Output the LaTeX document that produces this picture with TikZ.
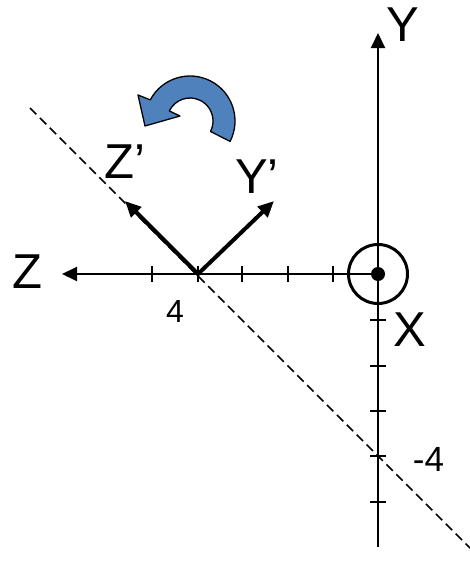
\documentclass[tikz,border=0pt]{standalone}
\usepackage{fontspec}
\setmainfont{Liberation Sans}
\usetikzlibrary{arrows.meta,calc}
\definecolor{arrowblue}{HTML}{4F81BD}
\begin{document}
\begin{tikzpicture}[x=1pt,y=-1pt,
  axis/.style={line width=2pt,-{Triangle[length=15pt,width=14pt]}},
  primed/.style={line width=4pt,{Triangle[length=16pt,width=14pt]}-{Triangle[length=16pt,width=14pt]}},
  tickmark/.style={line width=2pt},
  biglabel/.style={font=\fontsize{49}{55}\selectfont,inner sep=0pt},
  numlabel/.style={inner sep=0pt},
  guide/.style={line width=1.6pt,dash pattern=on 9pt off 5pt},
  rotarrow/.style={line width=1.3pt,fill=arrowblue,draw=black,line join=round}]
\useasboundingbox (0,0) rectangle (470,562);
\coordinate (O) at (378,274);
\coordinate (P) at (198,274);
% dashed guide line
\coordinate (g1) at (30,108);
\coordinate (g2) at (470,548);
\draw[guide] (g1) -- (g2);
% axes
\coordinate (zt) at (62,274);
\coordinate (yt) at (378,33);
\coordinate (yb) at (378,547);
\draw[axis] (O) -- (zt);
\draw[axis] (yb) -- (yt);
% ticks
\foreach \x in {152,198,242,288,333} \draw[tickmark] (\x,266) -- (\x,282);
\foreach \y in {320,366,411,456,502} \draw[tickmark] (370,\y) -- (386,\y);
% X axis out of page
\node[circle,draw,line width=3pt,minimum size=59pt,inner sep=0pt] (xc) at (O) {};
\fill (O) circle (7);
% rotated axes
\coordinate (zp) at (125,201);
\coordinate (yp) at (274,201);
\draw[primed] (zp) -- (P) -- (yp);
% rotation arrow
\coordinate (rc) at (190,121);
\draw[rotarrow]
  ($(rc)+(27:45)$) arc[start angle=27, end angle=-152, radius=45]
  -- (138,95) -- (145,126) -- (180,116) -- ($(rc)+(-154:23)$)
  arc[start angle=-154, end angle=27, radius=23] -- cycle;
% labels
\node[biglabel] (Zl) at (27,272) {Z};
\node[biglabel] (Yl) at (403,25) {Y};
\node[biglabel] (Xl) at (410,329.5) {X};
\node[biglabel,anchor=base west] (Zpl) at (104,178) {Z’};
\node[biglabel,anchor=base west] (Ypl) at (235,193) {Y’};
\node[numlabel,font=\fontsize{32}{36}\selectfont] (four) at (175,311.5) {4};
\node[numlabel,font=\fontsize{35}{40}\selectfont] (mfour) at (428.5,459.5) {-4};
\end{tikzpicture}
\end{document}
